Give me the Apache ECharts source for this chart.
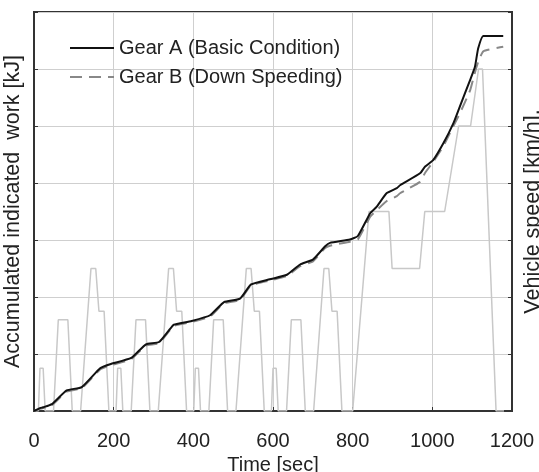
<!DOCTYPE html>
<html>
<head>
<meta charset="utf-8">
<script src="https://cdn.jsdelivr.net/npm/echarts@6/dist/echarts.min.js"></script>
<style>html,body{margin:0;padding:0;background:#fff}#c{width:539px;height:472px}</style>
</head>
<body>
<div id="c"></div>
<script>
// Accumulated work (relative units, 7 grid divisions) vs time [s]
const workTime = [0,15,23,45,82,120,166,191,244,281,314,350,367,396,442,477,517,545,592,635,668,701,731,743,793,813,844,860,885,911,919,969,982,1002,1028,1053,1069,1095,1107,1115,1128,1178];
const gearA = [0,0.05,0.065,0.12,0.36,0.42,0.75,0.82,0.93,1.17,1.21,1.51,1.54,1.58,1.68,1.91,1.97,2.22,2.31,2.39,2.57,2.66,2.89,2.95,3.01,3.07,3.47,3.58,3.82,3.91,3.96,4.17,4.29,4.40,4.70,5.05,5.34,5.81,6.04,6.36,6.58,6.58];
const gearB = [0,0.04,0.05,0.10,0.34,0.40,0.73,0.80,0.91,1.15,1.19,1.49,1.52,1.56,1.66,1.89,1.95,2.20,2.29,2.37,2.54,2.63,2.86,2.90,2.97,3.01,3.41,3.52,3.68,3.77,3.82,4.02,4.18,4.37,4.65,5.00,5.22,5.63,5.94,6.12,6.31,6.39];
// Vehicle speed [km/h] vs time [s]
const speedTime = [0,11,15,23,28,49,61,85,96,117,143,155,163,176,188,
  195,206,210,218,223,244,256,280,291,312,338,350,358,371,383,
  390,401,405,413,418,439,451,475,486,507,533,545,553,566,578,
  585,596,600,608,613,634,646,670,681,702,728,740,748,761,773,
  780,800,841,891,899,968,981,1031,1066,1096,1116,1126,1160,1180];
const speedValue = [0,0,15,15,0,0,32,32,0,0,50,50,35,35,0,
  0,0,15,15,0,0,32,32,0,0,50,50,35,35,0,
  0,0,15,15,0,0,32,32,0,0,50,50,35,35,0,
  0,0,15,15,0,0,32,32,0,0,50,50,35,35,0,
  0,0,70,70,50,50,70,70,100,100,120,120,0,0];
const xTicks = [0,200,400,600,800,1000,1200];
const seriesNames = ['Gear A (Basic Condition)','Gear B (Down Speeding)'];

const zip = (t, v) => t.map((x, i) => [x, v[i]]);
const FONT = 'Liberation Sans, Arial, sans-serif';
const chart = echarts.init(document.getElementById('c'), null, {renderer: 'canvas'});
chart.setOption({
  animation: false,
  backgroundColor: '#fff',
  grid: {left: 34, right: 27, top: 12, bottom: 61, containLabel: false, outerBoundsMode: 'none',
    show: true, borderColor: '#333', borderWidth: 2, backgroundColor: 'transparent'},
  legend: {
    left: 69, top: 38, orient: 'vertical', padding: 0, itemGap: 9,
    itemWidth: 44, itemHeight: 14,
    data: seriesNames,
    itemStyle: {opacity: 0},
    textStyle: {fontFamily: FONT, fontSize: 20, color: '#222'}
  },
  xAxis: {
    type: 'value', min: xTicks[0], max: xTicks[xTicks.length-1], interval: 200,
    name: 'Time [sec]', nameLocation: 'middle', nameGap: 43,
    nameTextStyle: {fontFamily: FONT, fontSize: 20, color: '#222'},
    axisLine: {show: true, lineStyle: {color: '#333', width: 2}},
    axisTick: {show: true, inside: true, length: 4, lineStyle: {color: '#333'}},
    axisLabel: {fontFamily: FONT, fontSize: 20, color: '#222', margin: 20, formatter: v => String(v)},
    splitLine: {show: true, lineStyle: {color: '#cfcfcf', width: 1}}
  },
  yAxis: [{
    type: 'value', min: 0, max: 7, interval: 1,
    name: 'Accumulated indicated  work [kJ]', nameLocation: 'middle', nameRotate: 90, nameGap: 10,
    nameTextStyle: {fontFamily: FONT, fontSize: 21.5, color: '#222'},
    axisLine: {show: true, lineStyle: {color: '#333', width: 2}},
    axisTick: {show: true, inside: true, length: 4, lineStyle: {color: '#333'}},
    axisLabel: {show: false},
    splitLine: {show: true, lineStyle: {color: '#cfcfcf', width: 1}}
  }, {
    type: 'value', min: 0, max: 140, interval: 20, position: 'right',
    name: 'Vehicle speed [km/h].', nameLocation: 'middle', nameRotate: 90, nameGap: 10,
    nameTextStyle: {fontFamily: FONT, fontSize: 21.5, color: '#222'},
    axisLine: {show: true, lineStyle: {color: '#333', width: 2}},
    axisTick: {show: true, inside: true, length: 4, lineStyle: {color: '#333'}},
    axisLabel: {show: false},
    splitLine: {show: false}
  }],
  series: [{
    name: 'speed', type: 'line', yAxisIndex: 1, data: zip(speedTime, speedValue),
    showSymbol: false, symbol: 'none', lineStyle: {color: '#c8c8c8', width: 1.5}, z: 1
  }, {
    name: seriesNames[1], type: 'line', data: zip(workTime, gearB), smooth: 0.15,
    showSymbol: false, symbol: 'none', itemStyle: {color: '#888'},
    lineStyle: {color: '#888', width: 2, type: [12, 7]}, z: 2
  }, {
    name: seriesNames[0], type: 'line', data: zip(workTime, gearA), smooth: 0.15,
    showSymbol: false, symbol: 'none', itemStyle: {color: '#111'},
    lineStyle: {color: '#111', width: 2}, z: 3
  }]
});
</script>
</body>
</html>
